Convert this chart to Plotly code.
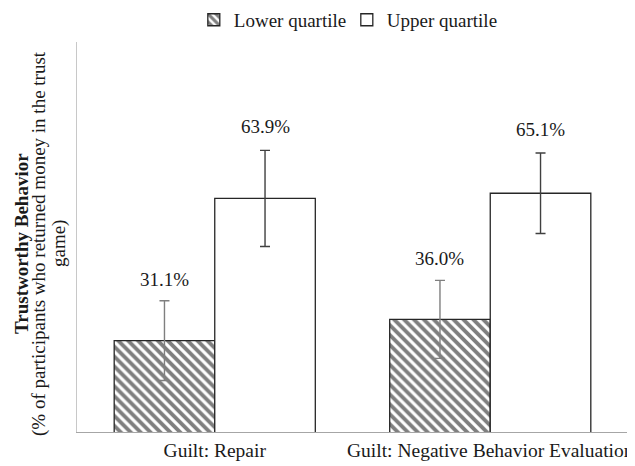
import plotly.graph_objects as go

categories = ["Guilt: Repair", "Guilt: Negative Behavior Evaluation"]
series_names = ["Lower quartile", "Upper quartile"]
lower_vals = [31.1, 36.0]
upper_vals = [63.9, 65.1]
lower_err = [9.2, 9.0]
upper_err = [11.1, 9.3]
lower_labels = ["31.1%", "36.0%"]
upper_labels = ["63.9%", "65.1%"]
ytitle_lines = ["<b>Trustworthy Behavior</b>",
                "(% of participants who returned money in the trust",
                "game)"]

FONT = "Liberation Serif"
FS = 19
TXT = "#1a1a1a"
xpos = list(range(len(categories)))
bargap = 0.27
half = (1 - bargap) / 4  # offset of each bar center from category center

fig = go.Figure()
fig.add_trace(go.Bar(
    name=series_names[0], x=xpos, y=lower_vals,
    marker=dict(color="white", line=dict(color="#262626", width=1.3),
                pattern=dict(shape="\\", fgcolor="black", bgcolor="white",
                             size=7, solidity=0.55, fillmode="overlay")),
    error_y=dict(type="data", array=lower_err, visible=True,
                 color="#7f7f7f", thickness=1.4, width=5),
))
fig.add_trace(go.Bar(
    name=series_names[1], x=xpos, y=upper_vals,
    marker=dict(color="white", line=dict(color="#262626", width=1.3)),
    error_y=dict(type="data", array=upper_err, visible=True,
                 color="#404040", thickness=1.4, width=5),
))

annotations = []
for i in xpos:
    annotations.append(dict(x=i - half, y=lower_vals[i] + lower_err[i],
                            text=lower_labels[i], showarrow=False,
                            yanchor="bottom", yshift=9,
                            font=dict(family=FONT, size=FS, color=TXT)))
    annotations.append(dict(x=i + half, y=upper_vals[i] + upper_err[i],
                            text=upper_labels[i], showarrow=False,
                            yanchor="bottom", yshift=11,
                            font=dict(family=FONT, size=FS, color=TXT)))

for line, shift in zip(ytitle_lines, [-56, -38, -18]):
    annotations.append(dict(
        xref="paper", yref="paper", x=0, y=0.482, xanchor="center", yanchor="middle",
        xshift=shift, textangle=-90, showarrow=False,
        text=line, font=dict(family=FONT, size=FS, color=TXT),
    ))

fig.update_layout(
    width=627, height=458,
    margin=dict(l=69, r=7, t=34, b=34, autoexpand=False),
    paper_bgcolor="white", plot_bgcolor="white",
    barmode="group", bargap=bargap, bargroupgap=0,
    font=dict(family=FONT, size=FS, color=TXT),
    showlegend=True,
    legend=dict(orientation="h", xref="paper", x=0.212, xanchor="left",
                yref="container", y=0.974, yanchor="middle",
                entrywidth=108, font=dict(family=FONT, size=FS, color=TXT),
                bgcolor="rgba(0,0,0,0)"),
    annotations=annotations,
    xaxis=dict(range=[-0.5, 1.5], tickvals=xpos, ticktext=categories,
               showline=True, linecolor="#a6a6a6", linewidth=1.2,
               showgrid=False, zeroline=False, ticks="", automargin=False,
               tickfont=dict(family=FONT, size=19.5, color=TXT)),
    yaxis=dict(range=[10, 100], showticklabels=False, showgrid=False,
               zeroline=False, showline=True, linecolor="#c8c8c8", linewidth=1.2,
               ticks="", automargin=False),
)

fig.write_html("out.html")
